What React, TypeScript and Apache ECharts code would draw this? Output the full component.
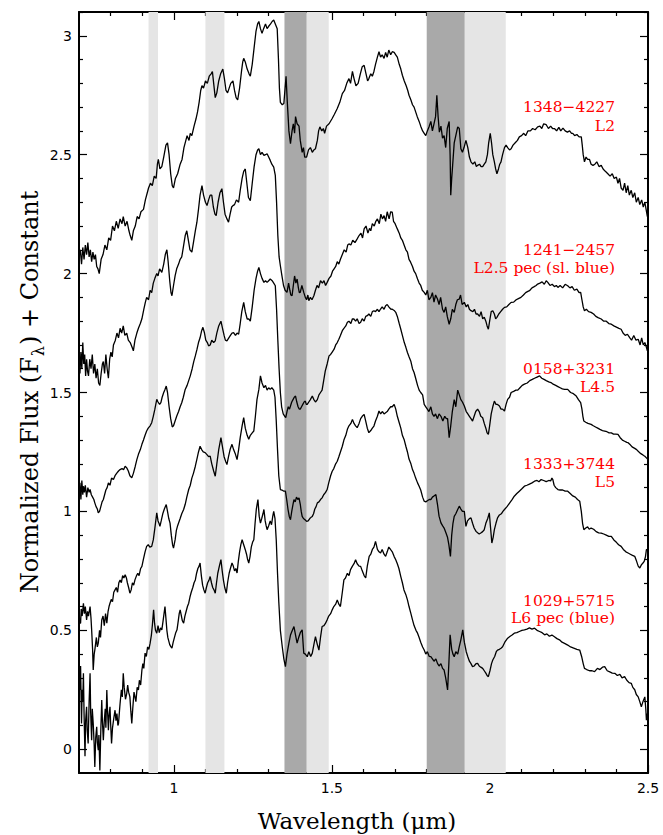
import React, { useEffect, useRef } from "react";
import * as echarts from "echarts";

// ---- tick values ----
const xMajorTicks = [1, 1.5, 2, 2.5];
const xMinorTicks = [0.8, 0.9, 1.1, 1.2, 1.3, 1.4, 1.6, 1.7, 1.8, 1.9, 2.1, 2.2, 2.3, 2.4];
const yMajorTicks = [0, 0.5, 1, 1.5, 2, 2.5, 3];
const yMinorTicks = [0.1, 0.2, 0.3, 0.4, 0.6, 0.7, 0.8, 0.9, 1.1, 1.2, 1.3, 1.4, 1.6, 1.7, 1.8, 1.9, 2.1, 2.2, 2.3, 2.4, 2.6, 2.7, 2.8, 2.9, 3.1];

// ---- shaded telluric bands (micron) ----
const lightBands = [[0.92, 0.95], [1.10, 1.16], [1.42, 1.49], [1.92, 2.05]];
const darkBands = [[1.35, 1.42], [1.80, 1.92]];

// ---- labels ----
const objectNames = ["1348\u22124227", "1241\u22122457", "0158+3231", "1333+3744", "1029+5715"];
const spectralTypes = ["L2", "L2.5 pec (sl. blue)", "L4.5", "L5", "L6 pec (blue)"];

// ---- spectra: [wavelength (micron), normalized flux + constant] ----
const spec1348 = [
[0.700,2.07],[0.704,2.10],[0.708,2.04],[0.712,2.11],[0.716,2.06],[0.720,2.12],[0.724,2.08],[0.728,2.13],[0.732,2.07],[0.736,2.10],[0.740,2.05],[0.744,2.09],[0.748,2.06],[0.752,2.08],[0.756,2.03],[0.760,2.02],[0.764,2.00],[0.770,2.06],[0.776,2.08],[0.782,2.12],[0.788,2.10],[0.794,2.15],[0.800,2.14],[0.806,2.20],[0.812,2.18],[0.818,2.22],[0.824,2.19],[0.830,2.23],[0.836,2.21],[0.840,2.24],[0.846,2.20],[0.852,2.22],[0.858,2.18],[0.862,2.16],[0.867,2.14],[0.872,2.18],[0.878,2.20],[0.884,2.24],[0.890,2.23],[0.896,2.26],[0.904,2.27],[0.910,2.31],[0.916,2.34],[0.920,2.36],[0.926,2.38],[0.932,2.37],[0.938,2.41],[0.944,2.40],[0.948,2.46],[0.951,2.48],[0.956,2.44],[0.962,2.45],[0.968,2.49],[0.975,2.54],[0.980,2.55],[0.985,2.50],[0.990,2.42],[0.995,2.37],[0.999,2.36],[1.005,2.40],[1.012,2.42],[1.020,2.46],[1.026,2.48],[1.032,2.53],[1.038,2.56],[1.042,2.58],[1.048,2.56],[1.052,2.59],[1.057,2.58],[1.064,2.62],[1.070,2.65],[1.075,2.68],[1.080,2.72],[1.085,2.77],[1.089,2.79],[1.094,2.78],[1.100,2.81],[1.106,2.80],[1.112,2.83],[1.118,2.84],[1.122,2.85],[1.126,2.80],[1.131,2.74],[1.136,2.76],[1.142,2.81],[1.148,2.84],[1.155,2.86],[1.160,2.82],[1.165,2.77],[1.170,2.76],[1.175,2.78],[1.180,2.80],[1.187,2.81],[1.192,2.77],[1.197,2.74],[1.202,2.73],[1.208,2.78],[1.214,2.85],[1.218,2.89],[1.221,2.905],[1.226,2.89],[1.232,2.86],[1.238,2.84],[1.242,2.83],[1.248,2.88],[1.254,2.95],[1.260,3.02],[1.265,3.05],[1.269,3.06],[1.274,3.03],[1.279,3.01],[1.284,3.03],[1.290,3.05],[1.295,3.03],[1.300,3.04],[1.306,3.05],[1.311,3.06],[1.316,3.066],[1.321,3.05],[1.327,3.03],[1.331,2.90],[1.334,2.78],[1.337,2.72],[1.343,2.71],[1.348,2.715],[1.352,2.78],[1.355,2.83],[1.359,2.72],[1.364,2.60],[1.369,2.546],[1.374,2.60],[1.378,2.63],[1.382,2.59],[1.385,2.66],[1.390,2.63],[1.396,2.62],[1.400,2.56],[1.406,2.51],[1.410,2.53],[1.414,2.49],[1.420,2.49],[1.426,2.52],[1.432,2.53],[1.438,2.51],[1.443,2.52],[1.448,2.525],[1.454,2.56],[1.458,2.60],[1.462,2.617],[1.468,2.60],[1.473,2.61],[1.477,2.59],[1.483,2.62],[1.491,2.63],[1.500,2.65],[1.508,2.67],[1.517,2.694],[1.525,2.72],[1.533,2.757],[1.540,2.77],[1.547,2.80],[1.554,2.82],[1.559,2.80],[1.565,2.85],[1.570,2.82],[1.576,2.79],[1.583,2.80],[1.590,2.84],[1.596,2.87],[1.602,2.876],[1.608,2.84],[1.613,2.81],[1.617,2.82],[1.623,2.84],[1.628,2.83],[1.633,2.85],[1.638,2.88],[1.644,2.91],[1.649,2.933],[1.654,2.91],[1.659,2.92],[1.665,2.905],[1.670,2.93],[1.675,2.91],[1.680,2.94],[1.686,2.92],[1.691,2.933],[1.697,2.93],[1.702,2.92],[1.707,2.91],[1.713,2.88],[1.718,2.86],[1.723,2.834],[1.729,2.81],[1.735,2.79],[1.740,2.77],[1.744,2.75],[1.750,2.73],[1.755,2.71],[1.760,2.70],[1.765,2.68],[1.770,2.66],[1.776,2.64],[1.781,2.62],[1.787,2.60],[1.792,2.59],[1.797,2.58],[1.802,2.60],[1.808,2.62],[1.813,2.64],[1.818,2.60],[1.823,2.63],[1.828,2.66],[1.832,2.75],[1.836,2.66],[1.840,2.595],[1.845,2.62],[1.850,2.57],[1.855,2.58],[1.860,2.53],[1.865,2.61],[1.871,2.64],[1.874,2.50],[1.876,2.33],[1.879,2.40],[1.882,2.455],[1.887,2.55],[1.892,2.58],[1.898,2.617],[1.903,2.61],[1.908,2.525],[1.913,2.51],[1.918,2.53],[1.924,2.56],[1.930,2.53],[1.935,2.49],[1.940,2.47],[1.946,2.46],[1.952,2.47],[1.957,2.45],[1.961,2.455],[1.967,2.46],[1.972,2.45],[1.977,2.45],[1.982,2.46],[1.987,2.47],[1.992,2.50],[1.996,2.55],[2.001,2.59],[2.005,2.55],[2.009,2.50],[2.014,2.47],[2.018,2.44],[2.022,2.42],[2.027,2.44],[2.031,2.46],[2.035,2.47],[2.040,2.50],[2.046,2.53],[2.051,2.54],[2.056,2.53],[2.062,2.52],[2.067,2.525],[2.073,2.54],[2.080,2.55],[2.087,2.56],[2.093,2.575],[2.100,2.58],[2.107,2.59],[2.113,2.58],[2.120,2.60],[2.128,2.60],[2.135,2.61],[2.143,2.605],[2.151,2.617],[2.158,2.62],[2.164,2.61],[2.170,2.63],[2.178,2.626],[2.185,2.61],[2.192,2.62],[2.198,2.61],[2.204,2.61],[2.211,2.60],[2.218,2.615],[2.224,2.60],[2.231,2.612],[2.238,2.60],[2.245,2.595],[2.252,2.60],[2.258,2.59],[2.262,2.59],[2.268,2.58],[2.275,2.585],[2.282,2.575],[2.289,2.575],[2.292,2.54],[2.295,2.50],[2.299,2.47],[2.304,2.49],[2.309,2.48],[2.315,2.48],[2.320,2.46],[2.326,2.455],[2.332,2.46],[2.338,2.47],[2.345,2.45],[2.352,2.455],[2.358,2.44],[2.365,2.43],[2.373,2.42],[2.380,2.41],[2.387,2.42],[2.393,2.40],[2.400,2.406],[2.405,2.38],[2.410,2.40],[2.415,2.36],[2.421,2.35],[2.426,2.38],[2.431,2.34],[2.436,2.37],[2.441,2.33],[2.447,2.35],[2.452,2.32],[2.458,2.34],[2.463,2.30],[2.469,2.32],[2.474,2.29],[2.480,2.31],[2.485,2.28],[2.490,2.30],[2.494,2.27],[2.498,2.24],[2.500,2.25]
];

const spec1241 = [
[0.700,1.63],[0.703,1.58],[0.706,1.67],[0.709,1.60],[0.712,1.71],[0.715,1.62],[0.718,1.66],[0.721,1.57],[0.724,1.64],[0.727,1.59],[0.730,1.57],[0.734,1.64],[0.738,1.60],[0.742,1.66],[0.746,1.58],[0.750,1.62],[0.754,1.56],[0.758,1.60],[0.762,1.54],[0.766,1.53],[0.770,1.58],[0.774,1.62],[0.777,1.63],[0.781,1.58],[0.785,1.66],[0.789,1.60],[0.793,1.56],[0.797,1.64],[0.801,1.67],[0.805,1.65],[0.809,1.70],[0.815,1.72],[0.820,1.75],[0.825,1.73],[0.830,1.77],[0.835,1.75],[0.840,1.78],[0.845,1.74],[0.851,1.75],[0.856,1.72],[0.862,1.71],[0.868,1.69],[0.872,1.675],[0.877,1.72],[0.883,1.75],[0.888,1.77],[0.894,1.79],[0.899,1.81],[0.905,1.85],[0.910,1.88],[0.914,1.90],[0.920,1.89],[0.925,1.93],[0.930,1.92],[0.935,1.96],[0.940,1.98],[0.946,2.00],[0.950,1.99],[0.955,2.02],[0.962,2.005],[0.968,2.04],[0.973,2.08],[0.978,2.10],[0.982,2.05],[0.987,1.97],[0.991,1.92],[0.994,1.907],[0.999,1.95],[1.004,1.99],[1.009,2.02],[1.015,2.04],[1.020,2.06],[1.025,2.07],[1.030,2.11],[1.036,2.16],[1.041,2.18],[1.046,2.14],[1.051,2.10],[1.057,2.09],[1.062,2.13],[1.068,2.18],[1.073,2.216],[1.078,2.27],[1.083,2.33],[1.089,2.37],[1.094,2.33],[1.100,2.30],[1.105,2.286],[1.110,2.31],[1.115,2.33],[1.120,2.33],[1.125,2.28],[1.130,2.25],[1.134,2.244],[1.140,2.30],[1.146,2.34],[1.152,2.357],[1.157,2.30],[1.162,2.25],[1.168,2.23],[1.173,2.216],[1.178,2.25],[1.183,2.28],[1.187,2.286],[1.192,2.29],[1.198,2.31],[1.205,2.30],[1.210,2.35],[1.216,2.40],[1.221,2.43],[1.226,2.44],[1.231,2.38],[1.236,2.32],[1.242,2.307],[1.248,2.38],[1.254,2.45],[1.260,2.50],[1.265,2.52],[1.269,2.525],[1.274,2.50],[1.279,2.51],[1.285,2.497],[1.290,2.50],[1.295,2.504],[1.300,2.49],[1.305,2.476],[1.310,2.46],[1.316,2.448],[1.321,2.413],[1.325,2.30],[1.329,2.16],[1.333,2.07],[1.337,2.033],[1.342,1.99],[1.347,1.95],[1.352,1.93],[1.358,1.921],[1.363,1.96],[1.367,1.93],[1.370,1.91],[1.374,1.907],[1.378,1.95],[1.382,1.99],[1.386,1.96],[1.390,1.977],[1.394,1.94],[1.397,1.92],[1.400,1.921],[1.405,1.95],[1.411,1.921],[1.416,1.90],[1.420,1.89],[1.424,1.91],[1.427,1.886],[1.432,1.90],[1.437,1.89],[1.443,1.907],[1.448,1.93],[1.453,1.95],[1.458,1.94],[1.464,1.97],[1.470,1.96],[1.475,1.97],[1.480,1.95],[1.485,1.963],[1.491,1.98],[1.497,1.99],[1.502,2.01],[1.507,2.02],[1.512,2.03],[1.517,2.05],[1.522,2.04],[1.527,2.06],[1.533,2.08],[1.539,2.10],[1.545,2.09],[1.550,2.12],[1.554,2.125],[1.560,2.12],[1.566,2.14],[1.573,2.13],[1.580,2.146],[1.586,2.16],[1.592,2.17],[1.597,2.15],[1.602,2.188],[1.608,2.20],[1.614,2.17],[1.619,2.19],[1.623,2.18],[1.628,2.21],[1.634,2.20],[1.639,2.22],[1.644,2.23],[1.650,2.21],[1.655,2.25],[1.660,2.23],[1.665,2.244],[1.670,2.22],[1.675,2.26],[1.681,2.23],[1.686,2.26],[1.691,2.258],[1.695,2.22],[1.700,2.21],[1.707,2.188],[1.713,2.17],[1.718,2.15],[1.723,2.14],[1.729,2.118],[1.734,2.10],[1.739,2.09],[1.744,2.06],[1.749,2.048],[1.755,2.03],[1.760,2.01],[1.765,2.00],[1.771,1.977],[1.776,1.96],[1.781,1.95],[1.786,1.93],[1.792,1.921],[1.797,1.91],[1.802,1.93],[1.807,1.89],[1.813,1.90],[1.818,1.92],[1.823,1.88],[1.828,1.91],[1.834,1.893],[1.839,1.87],[1.844,1.90],[1.850,1.85],[1.855,1.837],[1.860,1.86],[1.865,1.82],[1.871,1.787],[1.876,1.81],[1.881,1.85],[1.887,1.837],[1.892,1.87],[1.897,1.89],[1.903,1.893],[1.907,1.91],[1.912,1.87],[1.919,1.879],[1.925,1.86],[1.930,1.87],[1.935,1.85],[1.940,1.844],[1.946,1.84],[1.951,1.85],[1.956,1.83],[1.961,1.83],[1.967,1.82],[1.972,1.84],[1.977,1.81],[1.982,1.816],[1.987,1.80],[1.991,1.78],[1.995,1.766],[1.999,1.80],[2.004,1.84],[2.009,1.844],[2.014,1.83],[2.018,1.81],[2.022,1.816],[2.028,1.83],[2.034,1.84],[2.040,1.85],[2.046,1.858],[2.053,1.86],[2.060,1.87],[2.067,1.879],[2.075,1.88],[2.083,1.89],[2.090,1.895],[2.098,1.90],[2.106,1.91],[2.113,1.92],[2.120,1.925],[2.125,1.928],[2.133,1.94],[2.140,1.945],[2.146,1.95],[2.151,1.956],[2.158,1.96],[2.165,1.965],[2.172,1.955],[2.178,1.97],[2.183,1.963],[2.190,1.95],[2.197,1.955],[2.204,1.945],[2.210,1.95],[2.215,1.942],[2.222,1.95],[2.230,1.94],[2.238,1.955],[2.246,1.949],[2.253,1.94],[2.260,1.945],[2.267,1.93],[2.275,1.935],[2.282,1.92],[2.287,1.921],[2.291,1.89],[2.295,1.86],[2.299,1.844],[2.305,1.85],[2.312,1.84],[2.320,1.837],[2.328,1.83],[2.335,1.82],[2.342,1.815],[2.352,1.809],[2.360,1.80],[2.368,1.80],[2.376,1.79],[2.384,1.787],[2.392,1.78],[2.400,1.775],[2.408,1.77],[2.415,1.766],[2.421,1.75],[2.428,1.74],[2.435,1.745],[2.442,1.731],[2.448,1.72],[2.455,1.74],[2.462,1.72],[2.469,1.724],[2.475,1.70],[2.480,1.73],[2.485,1.70],[2.490,1.71],[2.495,1.69],[2.498,1.675],[2.500,1.68]
];

const spec0158 = [
[0.700,1.09],[0.703,1.12],[0.706,1.05],[0.709,1.13],[0.712,1.07],[0.714,1.106],[0.717,1.08],[0.720,1.11],[0.724,1.06],[0.728,1.10],[0.732,1.08],[0.735,1.092],[0.739,1.07],[0.743,1.06],[0.747,1.05],[0.750,1.036],[0.754,1.02],[0.758,1.01],[0.761,0.994],[0.765,1.00],[0.769,1.02],[0.773,1.04],[0.777,1.05],[0.781,1.07],[0.785,1.09],[0.789,1.10],[0.793,1.12],[0.798,1.11],[0.803,1.14],[0.809,1.134],[0.814,1.15],[0.819,1.16],[0.825,1.17],[0.830,1.176],[0.836,1.18],[0.841,1.175],[0.846,1.19],[0.851,1.183],[0.856,1.17],[0.861,1.15],[0.867,1.141],[0.872,1.16],[0.878,1.19],[0.883,1.218],[0.888,1.24],[0.894,1.26],[0.899,1.282],[0.904,1.30],[0.909,1.32],[0.914,1.338],[0.919,1.35],[0.925,1.36],[0.930,1.373],[0.935,1.40],[0.940,1.43],[0.946,1.471],[0.950,1.46],[0.955,1.45],[0.959,1.457],[0.963,1.48],[0.968,1.50],[0.972,1.513],[0.976,1.527],[0.980,1.50],[0.985,1.44],[0.990,1.39],[0.995,1.355],[0.999,1.36],[1.004,1.38],[1.009,1.40],[1.015,1.42],[1.020,1.44],[1.025,1.457],[1.030,1.48],[1.036,1.513],[1.042,1.53],[1.047,1.55],[1.052,1.57],[1.058,1.60],[1.063,1.63],[1.068,1.654],[1.073,1.68],[1.078,1.71],[1.083,1.73],[1.088,1.76],[1.092,1.774],[1.097,1.75],[1.101,1.72],[1.106,1.71],[1.110,1.696],[1.115,1.70],[1.120,1.72],[1.126,1.71],[1.131,1.717],[1.136,1.75],[1.142,1.78],[1.149,1.80],[1.154,1.77],[1.159,1.74],[1.163,1.72],[1.168,1.717],[1.174,1.73],[1.179,1.74],[1.184,1.75],[1.189,1.752],[1.195,1.74],[1.200,1.75],[1.205,1.745],[1.210,1.79],[1.215,1.84],[1.221,1.879],[1.226,1.84],[1.232,1.809],[1.237,1.81],[1.242,1.80],[1.248,1.86],[1.254,1.93],[1.260,1.98],[1.265,2.01],[1.269,2.026],[1.274,2.00],[1.279,1.98],[1.285,1.963],[1.290,1.97],[1.295,1.963],[1.300,1.97],[1.305,1.977],[1.311,1.97],[1.316,1.96],[1.321,1.949],[1.325,1.85],[1.329,1.72],[1.333,1.60],[1.337,1.50],[1.341,1.44],[1.346,1.41],[1.351,1.40],[1.354,1.394],[1.358,1.42],[1.362,1.44],[1.366,1.43],[1.369,1.443],[1.373,1.46],[1.377,1.47],[1.381,1.48],[1.385,1.485],[1.389,1.46],[1.393,1.44],[1.397,1.43],[1.400,1.43],[1.404,1.44],[1.408,1.45],[1.412,1.46],[1.416,1.464],[1.419,1.45],[1.422,1.45],[1.427,1.46],[1.432,1.47],[1.438,1.485],[1.443,1.47],[1.448,1.46],[1.454,1.47],[1.459,1.49],[1.464,1.50],[1.469,1.51],[1.474,1.55],[1.479,1.59],[1.485,1.62],[1.491,1.654],[1.496,1.66],[1.501,1.67],[1.507,1.682],[1.512,1.70],[1.517,1.71],[1.522,1.724],[1.527,1.74],[1.533,1.76],[1.538,1.77],[1.544,1.78],[1.549,1.795],[1.554,1.80],[1.560,1.79],[1.565,1.81],[1.570,1.809],[1.575,1.80],[1.580,1.81],[1.586,1.79],[1.591,1.795],[1.596,1.81],[1.602,1.80],[1.607,1.82],[1.612,1.823],[1.617,1.83],[1.623,1.82],[1.628,1.84],[1.633,1.844],[1.638,1.84],[1.644,1.85],[1.649,1.84],[1.654,1.851],[1.659,1.86],[1.665,1.85],[1.670,1.865],[1.675,1.87],[1.680,1.86],[1.686,1.851],[1.691,1.85],[1.697,1.845],[1.702,1.837],[1.707,1.82],[1.713,1.79],[1.718,1.766],[1.723,1.74],[1.729,1.71],[1.734,1.69],[1.739,1.668],[1.744,1.65],[1.750,1.63],[1.755,1.60],[1.760,1.584],[1.765,1.56],[1.771,1.53],[1.776,1.51],[1.781,1.50],[1.787,1.49],[1.792,1.45],[1.797,1.44],[1.802,1.43],[1.807,1.42],[1.813,1.44],[1.818,1.41],[1.823,1.40],[1.828,1.41],[1.834,1.39],[1.839,1.41],[1.845,1.40],[1.851,1.38],[1.857,1.40],[1.862,1.39],[1.866,1.39],[1.871,1.31],[1.876,1.36],[1.881,1.42],[1.887,1.47],[1.892,1.44],[1.898,1.51],[1.903,1.49],[1.908,1.47],[1.913,1.46],[1.919,1.443],[1.925,1.42],[1.930,1.41],[1.935,1.40],[1.940,1.39],[1.945,1.38],[1.950,1.40],[1.955,1.42],[1.961,1.43],[1.966,1.42],[1.971,1.40],[1.977,1.394],[1.982,1.37],[1.987,1.35],[1.991,1.33],[1.995,1.324],[1.999,1.36],[2.004,1.41],[2.009,1.44],[2.014,1.464],[2.019,1.45],[2.024,1.45],[2.030,1.443],[2.035,1.43],[2.040,1.43],[2.046,1.422],[2.051,1.45],[2.056,1.471],[2.062,1.48],[2.067,1.50],[2.075,1.505],[2.082,1.51],[2.088,1.51],[2.095,1.52],[2.102,1.53],[2.109,1.535],[2.118,1.54],[2.126,1.55],[2.134,1.555],[2.141,1.56],[2.149,1.565],[2.157,1.57],[2.164,1.56],[2.171,1.555],[2.178,1.55],[2.186,1.545],[2.193,1.542],[2.200,1.535],[2.208,1.53],[2.215,1.525],[2.222,1.52],[2.229,1.515],[2.236,1.513],[2.246,1.513],[2.255,1.50],[2.264,1.495],[2.273,1.485],[2.280,1.47],[2.287,1.457],[2.291,1.43],[2.294,1.40],[2.297,1.38],[2.303,1.375],[2.310,1.37],[2.320,1.366],[2.327,1.36],[2.334,1.355],[2.341,1.35],[2.348,1.345],[2.356,1.34],[2.363,1.338],[2.370,1.335],[2.377,1.33],[2.384,1.33],[2.391,1.325],[2.398,1.325],[2.405,1.324],[2.412,1.31],[2.419,1.30],[2.426,1.295],[2.433,1.29],[2.437,1.289],[2.444,1.28],[2.451,1.27],[2.458,1.265],[2.464,1.26],[2.469,1.253],[2.475,1.245],[2.481,1.24],[2.486,1.235],[2.490,1.232],[2.495,1.225],[2.500,1.218]
];

const spec1333 = [
[0.700,0.60],[0.702,0.53],[0.705,0.53],[0.707,0.59],[0.710,0.56],[0.714,0.614],[0.717,0.57],[0.720,0.60],[0.724,0.544],[0.727,0.58],[0.730,0.56],[0.735,0.60],[0.738,0.55],[0.740,0.502],[0.743,0.42],[0.745,0.333],[0.748,0.40],[0.750,0.417],[0.755,0.47],[0.758,0.43],[0.761,0.446],[0.765,0.50],[0.768,0.47],[0.772,0.544],[0.776,0.56],[0.780,0.52],[0.784,0.57],[0.788,0.53],[0.792,0.58],[0.795,0.60],[0.798,0.614],[0.802,0.63],[0.806,0.62],[0.810,0.66],[0.814,0.67],[0.818,0.68],[0.822,0.66],[0.826,0.70],[0.830,0.712],[0.834,0.70],[0.838,0.73],[0.842,0.72],[0.846,0.734],[0.850,0.72],[0.853,0.70],[0.857,0.68],[0.861,0.656],[0.865,0.67],[0.869,0.70],[0.873,0.69],[0.877,0.712],[0.882,0.73],[0.886,0.74],[0.890,0.73],[0.895,0.76],[0.899,0.769],[0.904,0.80],[0.909,0.83],[0.914,0.853],[0.919,0.86],[0.924,0.85],[0.930,0.853],[0.935,0.88],[0.940,0.93],[0.946,0.994],[0.950,0.96],[0.953,0.95],[0.956,0.937],[0.960,0.96],[0.965,0.99],[0.970,1.01],[0.976,1.029],[0.980,1.00],[0.984,0.97],[0.988,0.951],[0.992,0.90],[0.996,0.86],[0.999,0.846],[1.004,0.88],[1.008,0.92],[1.012,0.94],[1.015,0.951],[1.020,0.97],[1.025,0.99],[1.031,1.008],[1.036,1.03],[1.041,1.06],[1.047,1.092],[1.052,1.11],[1.057,1.14],[1.062,1.16],[1.068,1.19],[1.073,1.22],[1.078,1.25],[1.083,1.274],[1.088,1.26],[1.093,1.25],[1.099,1.247],[1.104,1.24],[1.110,1.23],[1.115,1.232],[1.120,1.20],[1.126,1.17],[1.131,1.148],[1.136,1.20],[1.142,1.26],[1.149,1.31],[1.154,1.27],[1.159,1.23],[1.164,1.21],[1.168,1.197],[1.173,1.23],[1.178,1.26],[1.184,1.282],[1.189,1.26],[1.195,1.24],[1.200,1.218],[1.205,1.26],[1.210,1.31],[1.216,1.36],[1.221,1.394],[1.226,1.35],[1.232,1.32],[1.237,1.303],[1.242,1.32],[1.248,1.33],[1.253,1.338],[1.258,1.40],[1.263,1.47],[1.269,1.513],[1.274,1.57],[1.279,1.54],[1.285,1.52],[1.290,1.53],[1.295,1.51],[1.300,1.52],[1.305,1.513],[1.310,1.52],[1.316,1.51],[1.320,1.48],[1.324,1.38],[1.328,1.26],[1.332,1.15],[1.337,1.092],[1.342,1.09],[1.348,1.085],[1.353,1.085],[1.357,1.05],[1.361,1.01],[1.365,0.98],[1.369,0.965],[1.373,1.00],[1.377,1.03],[1.380,1.05],[1.384,1.04],[1.388,1.06],[1.392,1.05],[1.396,1.057],[1.400,1.03],[1.403,1.00],[1.406,0.979],[1.410,0.97],[1.415,0.965],[1.420,0.958],[1.425,0.96],[1.430,0.97],[1.434,0.975],[1.438,0.979],[1.442,0.99],[1.446,1.01],[1.450,1.02],[1.454,1.036],[1.459,1.04],[1.464,1.05],[1.469,1.057],[1.474,1.07],[1.480,1.08],[1.485,1.092],[1.490,1.12],[1.496,1.15],[1.501,1.169],[1.506,1.18],[1.512,1.20],[1.517,1.211],[1.522,1.23],[1.527,1.25],[1.533,1.274],[1.538,1.30],[1.544,1.32],[1.549,1.345],[1.554,1.36],[1.560,1.37],[1.565,1.387],[1.570,1.37],[1.575,1.36],[1.580,1.352],[1.586,1.37],[1.591,1.39],[1.596,1.40],[1.602,1.408],[1.607,1.38],[1.612,1.35],[1.617,1.331],[1.623,1.34],[1.628,1.35],[1.633,1.359],[1.638,1.38],[1.644,1.40],[1.649,1.422],[1.654,1.41],[1.660,1.42],[1.665,1.41],[1.670,1.415],[1.675,1.42],[1.680,1.43],[1.686,1.44],[1.691,1.44],[1.697,1.45],[1.702,1.43],[1.707,1.40],[1.713,1.373],[1.718,1.35],[1.723,1.32],[1.729,1.30],[1.734,1.274],[1.739,1.25],[1.744,1.22],[1.750,1.20],[1.755,1.176],[1.760,1.16],[1.765,1.14],[1.771,1.12],[1.776,1.106],[1.781,1.09],[1.787,1.06],[1.792,1.043],[1.797,1.04],[1.802,1.045],[1.808,1.05],[1.813,1.05],[1.818,1.06],[1.823,1.065],[1.829,1.071],[1.834,1.03],[1.839,0.98],[1.845,0.952],[1.850,0.94],[1.855,0.93],[1.861,0.909],[1.866,0.89],[1.870,0.86],[1.875,0.811],[1.879,0.90],[1.883,0.95],[1.887,0.979],[1.892,0.99],[1.898,1.008],[1.903,1.022],[1.908,1.01],[1.913,1.00],[1.919,1.00],[1.924,0.937],[1.929,0.96],[1.935,0.97],[1.940,0.973],[1.945,0.95],[1.950,0.93],[1.956,0.916],[1.961,0.91],[1.966,0.905],[1.971,0.909],[1.977,0.915],[1.982,0.923],[1.987,0.95],[1.993,0.97],[1.998,0.994],[2.002,0.93],[2.006,0.867],[2.010,0.89],[2.014,0.923],[2.019,0.95],[2.024,0.973],[2.030,0.985],[2.036,0.99],[2.041,1.00],[2.046,1.008],[2.054,1.02],[2.062,1.035],[2.070,1.05],[2.077,1.064],[2.085,1.075],[2.093,1.085],[2.101,1.095],[2.109,1.106],[2.117,1.11],[2.125,1.115],[2.133,1.12],[2.141,1.127],[2.149,1.13],[2.155,1.125],[2.162,1.134],[2.170,1.13],[2.178,1.125],[2.186,1.13],[2.192,1.128],[2.196,1.14],[2.199,1.134],[2.203,1.11],[2.208,1.10],[2.215,1.092],[2.222,1.09],[2.230,1.09],[2.238,1.085],[2.246,1.085],[2.254,1.075],[2.262,1.065],[2.270,1.06],[2.277,1.05],[2.284,1.043],[2.289,1.00],[2.293,0.95],[2.297,0.923],[2.303,0.93],[2.309,0.935],[2.314,0.925],[2.320,0.930],[2.328,0.925],[2.336,0.915],[2.344,0.91],[2.352,0.909],[2.360,0.905],[2.368,0.90],[2.376,0.895],[2.384,0.895],[2.392,0.88],[2.400,0.87],[2.407,0.86],[2.415,0.853],[2.422,0.84],[2.430,0.83],[2.437,0.825],[2.444,0.82],[2.451,0.815],[2.458,0.811],[2.464,0.79],[2.469,0.77],[2.474,0.762],[2.479,0.775],[2.484,0.783],[2.488,0.79],[2.492,0.81],[2.495,0.839],[2.500,0.84]
];

const spec1029 = [
[0.700,0.361],[0.702,0.30],[0.703,0.249],[0.705,0.35],[0.708,0.108],[0.710,0.25],[0.712,0.20],[0.714,0.319],[0.716,0.15],[0.719,-0.03],[0.721,0.12],[0.724,0.178],[0.726,0.08],[0.729,0.024],[0.732,0.20],[0.735,0.319],[0.737,0.15],[0.740,0.038],[0.742,0.17],[0.745,0.108],[0.748,0.02],[0.750,-0.075],[0.753,0.05],[0.756,0.094],[0.758,0.03],[0.761,-0.004],[0.763,0.06],[0.766,-0.089],[0.769,0.08],[0.772,0.207],[0.774,0.12],[0.777,0.038],[0.780,0.12],[0.783,0.17],[0.785,0.09],[0.788,0.249],[0.790,0.17],[0.793,0.08],[0.795,0.14],[0.798,0.178],[0.800,0.11],[0.803,0.024],[0.806,0.09],[0.810,0.13],[0.814,0.164],[0.817,0.12],[0.820,0.15],[0.823,0.10],[0.825,0.108],[0.828,0.16],[0.830,0.193],[0.834,0.25],[0.837,0.22],[0.840,0.319],[0.843,0.26],[0.847,0.21],[0.851,0.235],[0.854,0.27],[0.857,0.24],[0.861,0.22],[0.864,0.16],[0.867,0.108],[0.870,0.17],[0.874,0.24],[0.877,0.22],[0.880,0.20],[0.884,0.26],[0.888,0.249],[0.891,0.29],[0.895,0.27],[0.899,0.333],[0.902,0.36],[0.905,0.34],[0.909,0.404],[0.913,0.39],[0.917,0.43],[0.921,0.42],[0.925,0.446],[0.929,0.48],[0.932,0.52],[0.936,0.586],[0.939,0.53],[0.942,0.50],[0.946,0.488],[0.950,0.52],[0.954,0.49],[0.958,0.51],[0.962,0.502],[0.966,0.54],[0.969,0.57],[0.972,0.60],[0.975,0.55],[0.978,0.50],[0.981,0.47],[0.983,0.46],[0.987,0.44],[0.991,0.43],[0.994,0.425],[0.998,0.45],[1.002,0.47],[1.006,0.49],[1.010,0.502],[1.014,0.54],[1.017,0.57],[1.020,0.586],[1.024,0.56],[1.027,0.54],[1.031,0.53],[1.035,0.56],[1.039,0.58],[1.043,0.60],[1.047,0.614],[1.051,0.64],[1.055,0.66],[1.060,0.68],[1.064,0.70],[1.068,0.712],[1.072,0.74],[1.076,0.76],[1.080,0.77],[1.083,0.783],[1.087,0.73],[1.091,0.69],[1.095,0.67],[1.099,0.656],[1.103,0.68],[1.107,0.70],[1.111,0.71],[1.115,0.726],[1.119,0.70],[1.123,0.68],[1.127,0.67],[1.131,0.656],[1.135,0.70],[1.139,0.74],[1.144,0.77],[1.149,0.797],[1.153,0.75],[1.157,0.71],[1.161,0.68],[1.166,0.656],[1.170,0.70],[1.175,0.74],[1.179,0.76],[1.184,0.783],[1.188,0.77],[1.192,0.75],[1.196,0.76],[1.200,0.741],[1.204,0.79],[1.208,0.83],[1.212,0.86],[1.216,0.881],[1.221,0.86],[1.226,0.839],[1.230,0.82],[1.233,0.80],[1.237,0.783],[1.241,0.81],[1.245,0.85],[1.249,0.87],[1.253,0.881],[1.257,0.95],[1.261,1.01],[1.266,1.05],[1.270,0.98],[1.274,0.951],[1.278,0.97],[1.282,0.99],[1.285,1.008],[1.289,0.96],[1.292,0.94],[1.295,0.923],[1.300,0.94],[1.305,0.96],[1.309,0.944],[1.313,0.98],[1.316,1.00],[1.320,0.97],[1.324,0.88],[1.328,0.74],[1.332,0.62],[1.337,0.50],[1.343,0.431],[1.348,0.38],[1.353,0.347],[1.358,0.40],[1.364,0.446],[1.369,0.48],[1.375,0.50],[1.380,0.516],[1.385,0.48],[1.390,0.446],[1.395,0.47],[1.400,0.49],[1.406,0.502],[1.411,0.404],[1.416,0.40],[1.422,0.389],[1.427,0.41],[1.433,0.39],[1.438,0.404],[1.443,0.44],[1.448,0.473],[1.454,0.44],[1.459,0.417],[1.464,0.47],[1.469,0.516],[1.475,0.52],[1.480,0.53],[1.485,0.544],[1.490,0.56],[1.496,0.57],[1.501,0.586],[1.506,0.60],[1.512,0.61],[1.517,0.628],[1.522,0.61],[1.527,0.60],[1.533,0.66],[1.538,0.712],[1.543,0.72],[1.549,0.74],[1.554,0.73],[1.559,0.755],[1.565,0.77],[1.570,0.78],[1.575,0.797],[1.580,0.78],[1.586,0.77],[1.591,0.769],[1.596,0.75],[1.602,0.73],[1.607,0.72],[1.612,0.77],[1.618,0.811],[1.623,0.82],[1.628,0.84],[1.633,0.85],[1.638,0.874],[1.644,0.84],[1.649,0.83],[1.654,0.825],[1.659,0.84],[1.665,0.82],[1.670,0.811],[1.675,0.83],[1.680,0.85],[1.686,0.839],[1.691,0.83],[1.697,0.81],[1.702,0.797],[1.707,0.78],[1.712,0.76],[1.718,0.726],[1.723,0.70],[1.728,0.67],[1.734,0.65],[1.739,0.628],[1.744,0.60],[1.750,0.57],[1.755,0.544],[1.760,0.52],[1.766,0.50],[1.771,0.488],[1.776,0.47],[1.781,0.45],[1.787,0.43],[1.792,0.417],[1.797,0.40],[1.802,0.41],[1.808,0.39],[1.813,0.389],[1.818,0.38],[1.823,0.37],[1.829,0.38],[1.834,0.361],[1.839,0.35],[1.845,0.36],[1.850,0.34],[1.855,0.333],[1.860,0.30],[1.866,0.249],[1.870,0.36],[1.874,0.481],[1.879,0.42],[1.883,0.40],[1.887,0.389],[1.892,0.41],[1.898,0.40],[1.903,0.431],[1.908,0.46],[1.914,0.502],[1.919,0.45],[1.925,0.41],[1.930,0.389],[1.935,0.37],[1.940,0.36],[1.945,0.347],[1.950,0.35],[1.956,0.36],[1.961,0.361],[1.966,0.35],[1.971,0.345],[1.977,0.34],[1.982,0.33],[1.987,0.32],[1.991,0.31],[1.995,0.305],[2.000,0.33],[2.005,0.36],[2.009,0.375],[2.015,0.39],[2.020,0.41],[2.024,0.417],[2.030,0.42],[2.035,0.425],[2.040,0.431],[2.047,0.45],[2.056,0.467],[2.064,0.475],[2.070,0.48],[2.077,0.488],[2.085,0.49],[2.093,0.495],[2.101,0.50],[2.109,0.502],[2.117,0.505],[2.125,0.51],[2.133,0.505],[2.141,0.509],[2.149,0.50],[2.157,0.495],[2.165,0.49],[2.173,0.481],[2.180,0.485],[2.188,0.475],[2.196,0.48],[2.204,0.473],[2.212,0.465],[2.220,0.46],[2.228,0.45],[2.236,0.445],[2.246,0.438],[2.255,0.43],[2.265,0.425],[2.275,0.42],[2.284,0.417],[2.290,0.39],[2.295,0.36],[2.299,0.34],[2.306,0.335],[2.315,0.33],[2.323,0.33],[2.331,0.326],[2.340,0.34],[2.348,0.335],[2.356,0.345],[2.363,0.347],[2.371,0.33],[2.379,0.325],[2.387,0.32],[2.395,0.319],[2.403,0.31],[2.411,0.315],[2.418,0.30],[2.426,0.305],[2.433,0.29],[2.440,0.28],[2.447,0.277],[2.452,0.26],[2.458,0.25],[2.463,0.23],[2.469,0.22],[2.474,0.20],[2.479,0.178],[2.484,0.20],[2.490,0.22],[2.493,0.17],[2.495,0.122],[2.498,0.15],[2.500,0.13]
];

const spectra = [spec1348, spec1241, spec0158, spec1333, spec1029];

// label anchor positions (pixels)
const LABEL_RIGHT = 615;
const labelNameY = [107, 250, 369, 464, 601];
const labelTypeY = [126, 268, 387, 482, 618];

const X_MIN = 0.7, X_MAX = 2.5, Y_MIN = -0.1, Y_MAX = 3.1;
const FONT_TICK = "DejaVu Sans";
const FONT_SERIF = "DejaVu Serif";

function makeXAxis(pos: "bottom" | "top", ticks: number[], len: number, labels: boolean, line: boolean) {
  return {
    type: "value", min: X_MIN, max: X_MAX, position: pos,
    axisLine: { show: line, onZero: false, lineStyle: { color: "#000", width: 2 } },
    axisTick: { show: true, inside: true, length: len, customValues: ticks, lineStyle: { color: "#000", width: 1.2 } },
    axisLabel: labels
      ? { show: true, customValues: ticks, color: "#000", fontSize: 14, fontFamily: FONT_TICK, margin: 8 }
      : { show: false },
    splitLine: { show: false },
  };
}
function makeYAxis(pos: "left" | "right", ticks: number[], len: number, labels: boolean, line: boolean) {
  return {
    type: "value", min: Y_MIN, max: Y_MAX, position: pos,
    axisLine: { show: line, onZero: false, lineStyle: { color: "#000", width: 2 } },
    axisTick: { show: true, inside: true, length: len, customValues: ticks, lineStyle: { color: "#000", width: 1.2 } },
    axisLabel: labels
      ? { show: true, customValues: ticks, color: "#000", fontSize: 14, fontFamily: FONT_TICK, margin: 7 }
      : { show: false },
    splitLine: { show: false },
  };
}

export default function App() {
  const ref = useRef<HTMLDivElement>(null);
  useEffect(() => {
    if (!ref.current) return;
    const chart = echarts.init(ref.current, undefined, { renderer: "svg" });

    const bandData: any[] = [];
    lightBands.forEach(([a, b]) => bandData.push([{ xAxis: a, itemStyle: { color: "#e5e5e5" } }, { xAxis: b }]));
    darkBands.forEach(([a, b]) => bandData.push([{ xAxis: a, itemStyle: { color: "#a9a9a9" } }, { xAxis: b }]));

    const series: any[] = [
      {
        type: "line", data: [], z: 1, silent: true,
        markArea: { silent: true, data: bandData, itemStyle: { opacity: 1 } },
      },
    ];
    spectra.forEach((s) => {
      series.push({
        type: "line", data: s, z: 3, showSymbol: false, symbol: "none", silent: true,
        lineStyle: { color: "#000", width: 1.3 }, clip: true,
      });
    });

    const labelFont = `15.5px "${FONT_SERIF}"`;
    const graphics: any[] = [];
    objectNames.forEach((name, i) => {
      graphics.push({
        type: "text", x: LABEL_RIGHT, y: labelNameY[i], z: 10,
        style: { text: name, fill: "#ff0000", font: labelFont, align: "right", verticalAlign: "middle", textAlign: "right", textVerticalAlign: "middle" },
      });
      graphics.push({
        type: "text", x: LABEL_RIGHT, y: labelTypeY[i], z: 10,
        style: { text: spectralTypes[i], fill: "#ff0000", font: labelFont, align: "right", verticalAlign: "middle", textAlign: "right", textVerticalAlign: "middle" },
      });
    });
    graphics.push({
      type: "text", x: 357, y: 821, z: 10,
      style: { text: "Wavelength (\u03bcm)", fill: "#000", font: `23px "${FONT_SERIF}"`, align: "center", verticalAlign: "middle", textAlign: "center", textVerticalAlign: "middle" },
    });
    graphics.push({
      type: "text", x: 30, y: 392, z: 10, rotation: Math.PI / 2,
      style: {
        text: "{n|Normalized Flux (F}{s|\u03bb}{n|) + Constant}",
        fill: "#000", align: "center", verticalAlign: "middle", textAlign: "center", textVerticalAlign: "middle",
        rich: {
          n: { fontSize: 24, fontFamily: FONT_SERIF, fill: "#000", color: "#000", lineHeight: 32, verticalAlign: "middle" },
          s: { fontSize: 16, fontFamily: FONT_SERIF, fill: "#000", color: "#000", lineHeight: 32, verticalAlign: "bottom", padding: [0, 1, 0, 1] },
        },
      },
    });

    chart.setOption({
      animation: false,
      backgroundColor: "#fff",
      grid: { left: 79, top: 12, width: 569, height: 761, containLabel: false },
      xAxis: [
        makeXAxis("bottom", xMajorTicks, 8, true, true),
        makeXAxis("bottom", xMinorTicks, 4, false, false),
        makeXAxis("top", xMajorTicks, 8, false, true),
        makeXAxis("top", xMinorTicks, 4, false, false),
      ],
      yAxis: [
        makeYAxis("left", yMajorTicks, 8, true, true),
        makeYAxis("left", yMinorTicks, 4, false, false),
        makeYAxis("right", yMajorTicks, 8, false, true),
        makeYAxis("right", yMinorTicks, 4, false, false),
      ],
      series,
      graphic: graphics,
    });
    return () => chart.dispose();
  }, []);
  return (
    <div
      ref={ref}
      style={{ position: "fixed", left: 0, top: 0, width: 663, height: 835, background: "#fff" }}
    />
  );
}
